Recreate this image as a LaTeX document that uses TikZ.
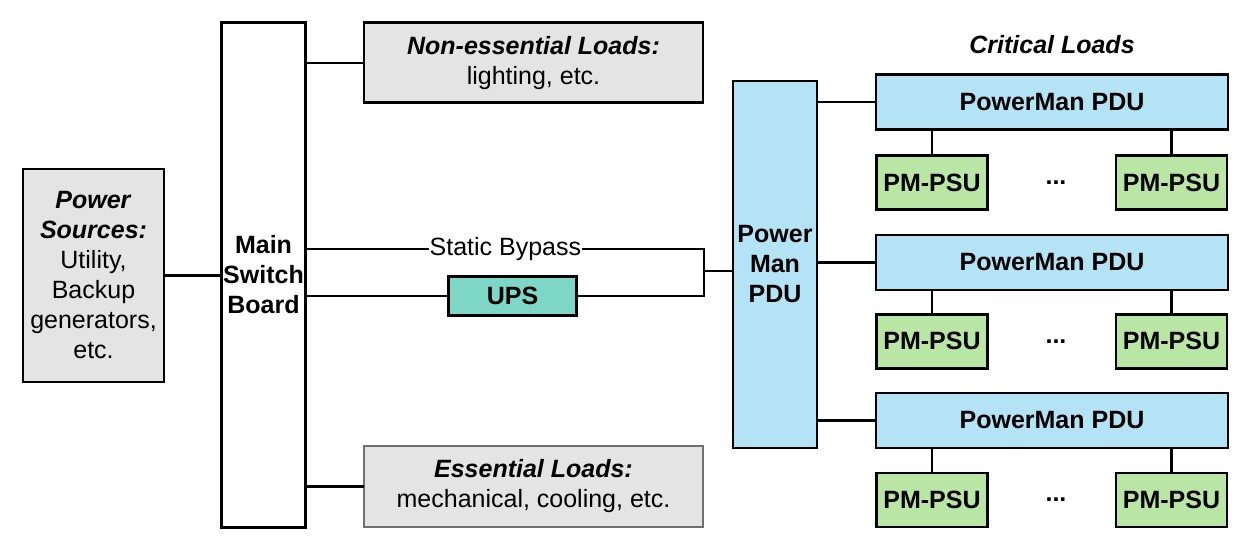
\documentclass[tikz,border=0pt]{standalone}
\usepackage{fontspec}
\setmainfont{Liberation Sans}
\usetikzlibrary{calc}
\tikzset{
    box/.style={
        draw=black, line width=2.7pt, rectangle, inner sep=0pt, align=center,
        font=\fontsize{25}{30}\selectfont
    },
    load box/.style={box, fill=LoadGray},
    pdu box/.style={box, fill=PduBlue, font=\fontsize{25}{30}\selectfont\bfseries},
    psu box/.style={box, fill=PsuGreen, minimum width=111pt, minimum height=54pt,
        font=\fontsize{25}{30}\selectfont\bfseries},
    wire/.style={line width=2.3pt, line cap=rect},
    label text/.style={inner sep=0.5pt, font=\fontsize{25}{30}\selectfont},
}
\definecolor{LoadGray}{HTML}{E4E4E4}
\definecolor{EssentialBorder}{HTML}{707070}
\definecolor{UpsTeal}{HTML}{7ED6C6}
\definecolor{PduBlue}{HTML}{B4E3F5}
\definecolor{PsuGreen}{HTML}{B9E6A5}

\begin{document}
\begin{tikzpicture}[x=1pt, y=-1pt]

    \useasboundingbox (0, 0) rectangle (1248, 544);

    \node[load box, minimum width=141pt, minimum height=213pt] (sources) at (93.5, 275.5)
        {\textbf{\textit{Power}}\\\textbf{\textit{Sources:}}\\Utility,\\Backup\\generators,\\etc.};
    \node[box, fill=white, minimum width=84pt, minimum height=505pt, font=\fontsize{25}{30}\selectfont\bfseries] (msb) at (263.5, 275)
        {Main\\Switch\\Board};

    \node[load box, minimum width=339pt, minimum height=80pt] (nonessential) at (533.5, 62.75)
        {\textbf{\textit{Non-essential Loads:}}\\lighting, etc.};
    \node[load box, draw=EssentialBorder, minimum width=339pt, minimum height=81pt] (essential) at (533.5, 486.5)
        {\textbf{\textit{Essential Loads:}}\\mechanical, cooling, etc.};

    \node[box, fill=UpsTeal, minimum width=128pt, minimum height=39pt, font=\fontsize{25}{30}\selectfont\bfseries] (ups) at (512.5, 296) {UPS};

    \node[pdu box, minimum width=84pt, minimum height=367pt] (mainpdu) at (775, 264.5)
        {Power\\Man\\PDU};

    \node[label text, font=\fontsize{25}{30}\selectfont\bfseries\itshape] (critical) at (1052, 44.5) {Critical Loads};

    \node[pdu box, minimum width=352pt, minimum height=55pt] (pduA) at (1052, 102) {PowerMan PDU};
    \node[pdu box, minimum width=352pt, minimum height=55pt] (pduB) at (1052, 262.5) {PowerMan PDU};
    \node[pdu box, minimum width=352pt, minimum height=55pt] (pduC) at (1052, 420.5) {PowerMan PDU};

    \node[psu box] (psuA1) at (932, 182.5) {PM-PSU};
    \node[psu box] (psuA2) at (1171.5, 182.5) {PM-PSU};
    \node[psu box] (psuB1) at (932, 341.3) {PM-PSU};
    \node[psu box] (psuB2) at (1171.5, 341.3) {PM-PSU};
    \node[psu box] (psuC1) at (932, 500) {PM-PSU};
    \node[psu box] (psuC2) at (1171.5, 500) {PM-PSU};

    \node[label text, font=\fontsize{25}{30}\selectfont\bfseries] (dotsA) at (1056, 182.5) {...};
    \node[label text, font=\fontsize{25}{30}\selectfont\bfseries] (dotsB) at (1056, 341.3) {...};
    \node[label text, font=\fontsize{25}{30}\selectfont\bfseries] (dotsC) at (1056, 500) {...};

    \coordinate (bypassEnd) at (704, 249);
    \coordinate (upsEnd) at (704, 296);
    \coordinate (tap) at (704, 271);

    \draw[wire] (sources.east) -- (sources.east -| msb.west);
    \draw[wire] (nonessential.west) -- (nonessential.west -| msb.east);
    \draw[wire] (essential.west) -- (essential.west -| msb.east);

    \draw[wire] (msb.east |- bypassEnd) -- node[label text, fill=white] (bypass) {Static Bypass} (bypassEnd) -- (upsEnd) -- (ups.east);
    \draw[wire] (ups.west) -- (ups.west -| msb.east);
    \draw[wire] (tap) -- (tap -| mainpdu.west);

    \draw[wire] (pduA.west) -- (pduA.west -| mainpdu.east);
    \draw[wire] (pduB.west) -- (pduB.west -| mainpdu.east);
    \draw[wire] (pduC.west) -- (pduC.west -| mainpdu.east);

    \draw[wire] (psuA1.north) -- (psuA1.north |- pduA.south);
    \draw[wire] (psuA2.north) -- (psuA2.north |- pduA.south);
    \draw[wire] (psuB1.north) -- (psuB1.north |- pduB.south);
    \draw[wire] (psuB2.north) -- (psuB2.north |- pduB.south);
    \draw[wire] (psuC1.north) -- (psuC1.north |- pduC.south);
    \draw[wire] (psuC2.north) -- (psuC2.north |- pduC.south);

\end{tikzpicture}
\end{document}
